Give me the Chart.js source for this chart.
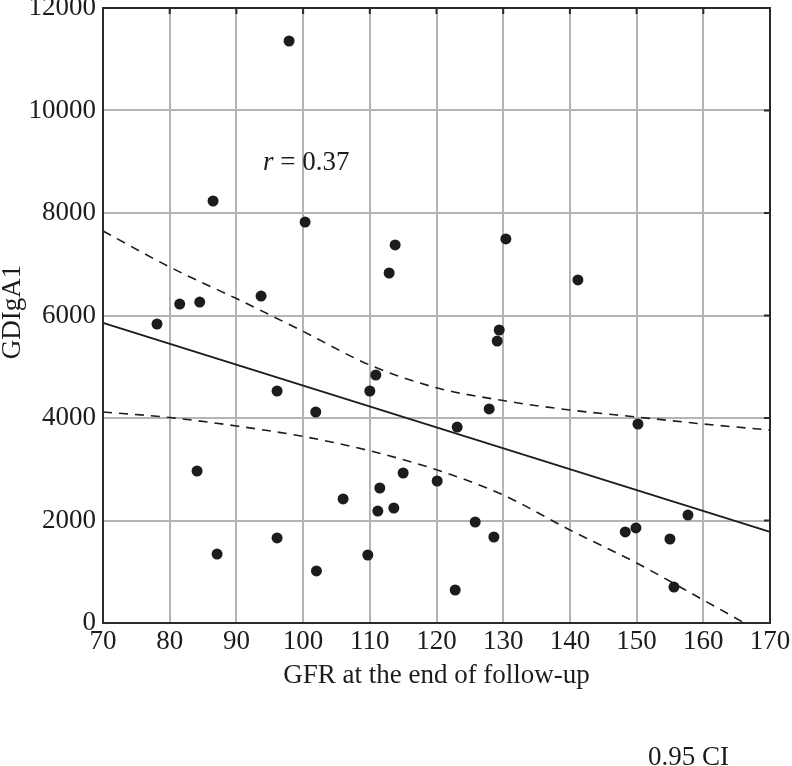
<!DOCTYPE html>
<html><head><meta charset="utf-8">
<script src="https://cdn.jsdelivr.net/npm/chart.js@4"></script>
<style>html,body{margin:0;padding:0;background:#fff}</style>
</head><body>
<canvas id="c" width="792" height="766"></canvas>
<script>
// ---- data ----
const gfr = [78.1, 81.5, 84.5, 86.5, 93.7, 97.9, 100.3, 112.9, 113.8, 130.4, 141.2, 129.1, 129.4, 96.1, 101.9, 110.0, 110.9, 84.1, 87.1, 96.1, 102.0, 106.0, 109.7, 111.2, 111.5, 113.6, 115.0, 120.1, 123.1, 122.8, 125.8, 127.9, 128.6, 148.3, 149.9, 150.2, 155.0, 155.6, 157.7];
const gdiga1 = [5834, 6224, 6263, 8234, 6380, 11356, 7824, 6829, 7376, 7493, 6693, 5502, 5717, 4527, 4117, 4527, 4839, 2966, 1346, 1659, 1015, 2420, 1327, 2185, 2634, 2244, 2927, 2771, 3824, 644, 1971, 4176, 1678, 1776, 1854, 3883, 1639, 702, 2107];
const fitX = [70, 170];
const fitY = [5855, 1776];
const ciX = [70, 80, 90, 100, 110, 120, 130, 140, 150, 160, 170];
const ciUpper = [7650, 6946, 6330, 5690, 5034, 4590, 4340, 4156, 4020, 3883, 3766];
const ciLower = [4117, 4010, 3844, 3640, 3360, 2990, 2498, 1815, 1171, 449, -280];
const xTicks = [70, 80, 90, 100, 110, 120, 130, 140, 150, 160, 170];
const yTicks = [0, 2000, 4000, 6000, 8000, 10000, 12000];
const xTitle = 'GFR at the end of follow-up';
const yTitle = 'GDIgA1';
const rLabel = '0.37';
const ciLabel = '0.95 CI';

const FONT = "'Liberation Serif', 'Times New Roman', serif";
const INK = '#1c1c1c';
const zip = (xs, ys) => xs.map((x, i) => ({x, y: ys[i]}));

const deco = {
  id: 'deco',
  afterDraw(chart) {
    const {ctx, chartArea: a, scales: {x, y}} = chart;
    ctx.save();
    // frame
    ctx.strokeStyle = '#2a2a2a';
    ctx.lineWidth = 2;
    ctx.strokeRect(a.left, a.top, a.right - a.left, a.bottom - a.top);
    // inner ticks on top and right edges
    ctx.beginPath();
    xTicks.forEach(v => {
      const px = x.getPixelForValue(v);
      ctx.moveTo(px, a.top); ctx.lineTo(px, a.top + 6);
    });
    yTicks.forEach(v => {
      const py = y.getPixelForValue(v);
      ctx.moveTo(a.right, py); ctx.lineTo(a.right - 6, py);
    });
    ctx.stroke();
    // texts
    ctx.fillStyle = INK;
    ctx.font = '27px ' + FONT;
    ctx.textBaseline = 'alphabetic';
    ctx.textAlign = 'center';
    ctx.fillText(xTitle, (a.left + a.right) / 2, 683);
    ctx.save();
    ctx.translate(20, 312);
    ctx.rotate(-Math.PI / 2);
    ctx.fillText(yTitle, 0, 0);
    ctx.restore();
    // r = 0.37
    ctx.textAlign = 'left';
    ctx.font = 'italic 27px ' + FONT;
    ctx.fillText('r', 263, 170);
    const w = ctx.measureText('r').width;
    ctx.font = '27px ' + FONT;
    ctx.fillText(' = ' + rLabel, 263 + w, 170);
    // CI label
    ctx.fillText(ciLabel, 648, 765);
    ctx.restore();
  }
};

const tickFont = {family: FONT, size: 27};

new Chart(document.getElementById('c'), {
  type: 'scatter',
  data: {
    datasets: [
      {label: 'lower', data: zip(ciX, ciLower), showLine: true, borderColor: INK, borderWidth: 1.6, borderDash: [9, 7], pointRadius: 0, cubicInterpolationMode: 'monotone', clip: 1},
      {label: 'upper', data: zip(ciX, ciUpper), showLine: true, borderColor: INK, borderWidth: 1.6, borderDash: [9, 7], pointRadius: 0, cubicInterpolationMode: 'monotone', clip: 1},
      {label: 'fit', data: zip(fitX, fitY), showLine: true, borderColor: INK, borderWidth: 1.8, pointRadius: 0, clip: 1},
      {label: 'GDIgA1', data: zip(gfr, gdiga1), pointRadius: 5.5, pointBackgroundColor: INK, pointBorderWidth: 0, showLine: false}
    ]
  },
  options: {
    responsive: false,
    animation: false,
    devicePixelRatio: 1,
    layout: {padding: {top: 8, right: 22, left: 0, bottom: 0}},
    plugins: {legend: {display: false}, tooltip: {enabled: false}},
    scales: {
      x: {
        type: 'linear', min: 70, max: 170,
        afterBuildTicks(s) { s.ticks = xTicks.map(v => ({value: v})); },
        ticks: {font: tickFont, color: INK, padding: 3, maxRotation: 0, autoSkip: false, callback: v => String(v)},
        grid: {color: '#b4b4b4', lineWidth: 2, drawTicks: false},
        border: {color: '#2a2a2a', width: 2},
        afterFit(s) { s.height = 143; s.paddingLeft = 0; s.paddingRight = 0; }
      },
      y: {
        type: 'linear', min: 0, max: 12000,
        afterBuildTicks(s) { s.ticks = yTicks.map(v => ({value: v})); },
        ticks: {font: tickFont, color: INK, padding: 7, autoSkip: false, callback: v => String(v)},
        grid: {color: '#b4b4b4', lineWidth: 2, drawTicks: false},
        border: {color: '#2a2a2a', width: 2},
        afterFit(s) { s.width = 103; s.paddingTop = 0; s.paddingBottom = 0; }
      }
    }
  },
  plugins: [deco]
});
</script>
</body></html>
